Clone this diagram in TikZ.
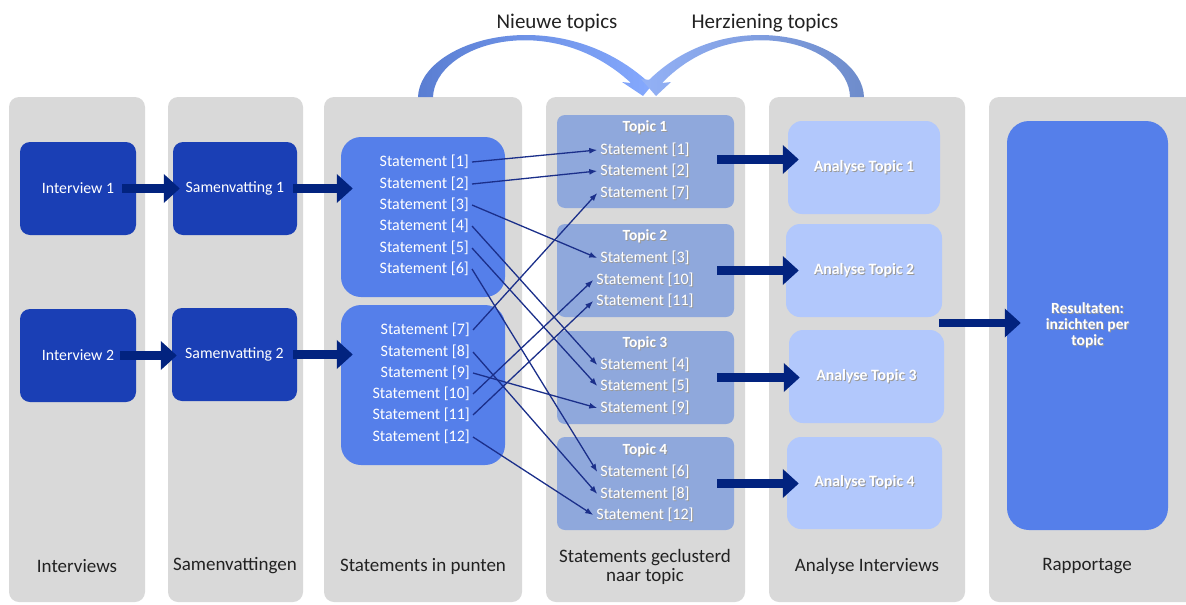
\documentclass[tikz,border=0pt]{standalone}
\usepackage{fontspec}
\setmainfont{Carlito}
\usetikzlibrary{arrows.meta}

\definecolor{colgray}{HTML}{D9D9D9}
\definecolor{deepblue}{HTML}{1A3FB5}
\definecolor{midblue}{HTML}{557FEA}
\definecolor{topicblue}{HTML}{8FA8DC}
\definecolor{paleblue}{HTML}{B2C8FC}
\definecolor{navy}{HTML}{02237F}
\definecolor{linknavy}{HTML}{1B2F8A}
\definecolor{arcdark}{HTML}{5A7ED2}
\definecolor{arclight}{HTML}{86AAFF}
\definecolor{arcdarkb}{HTML}{6E8CCB}
\definecolor{arclightb}{HTML}{93B1F6}
\definecolor{captext}{HTML}{222222}

% white text with a soft drop shadow
\newcommand\shd[1]{\rlap{\hspace{0.9pt}\raisebox{-0.9pt}{\textcolor{black!40}{#1}}}#1}

\begin{document}
\begin{tikzpicture}[x=1pt,y=-1pt,
  column/.style={fill=colgray, rounded corners=10pt},
  boxbase/.style={inner sep=0pt, text=white},
  ibox/.style={boxbase, fill=deepblue, rounded corners=10pt, font=\fontsize{15.8}{18}\selectfont},
  sbox/.style={boxbase, fill=midblue, rounded corners=20pt},
  tbox/.style={boxbase, fill=topicblue, rounded corners=8pt},
  abox/.style={boxbase, fill=paleblue, rounded corners=14pt, font=\bfseries\fontsize{15.8}{18}\selectfont},
  rbox/.style={boxbase, fill=midblue, rounded corners=22pt, align=center, font=\bfseries\fontsize{15.5}{16}\selectfont},
  stm/.style={text=white, inner sep=3pt, anchor=east, font=\fontsize{16}{18}\selectfont},
  tstm/.style={text=white, inner sep=3pt, font=\fontsize{16}{18}\selectfont},
  ttl/.style={text=white, inner sep=1pt, font=\bfseries\fontsize{15.5}{18}\selectfont},
  bigarrow/.style={draw=navy, line width=8.5pt, -{Triangle[length=16pt,width=28pt]}},
  link/.style={draw=linknavy, line width=1.3pt, -{Latex[length=8pt,width=6pt]}},
  caption/.style={text=captext, align=center, font=\fontsize{19}{19}\selectfont},
  toplabel/.style={text=captext, font=\fontsize{21}{21}\selectfont}]

\useasboundingbox (0,0) rectangle (1186,605);

% column backgrounds
\path[column] (9,97) rectangle (145,602);
\path[column] (168,97) rectangle (303,602);
\path[column] (324,97) rectangle (522,602);
\path[column] (546,97) rectangle (745,602);
\path[column] (769,97) rectangle (965,602);
\path[column] (989,97) rectangle (1196,602);

% feedback arcs above the clustering column
\shade[left color=arcdark, right color=arclight]
  (418,97) .. controls (420,40) and (555,0) .. (646,80)
  -- (657,79) -- (643,96) -- (622,82) -- (631,83)
  .. controls (550,8) and (435,44) .. (433,97) -- cycle;
\shade[left color=arclightb, right color=arcdarkb]
  (864,97) .. controls (862,40) and (730,0) .. (649,80)
  -- (641,79) -- (656,96) -- (671,82) -- (662,83)
  .. controls (735,8) and (849,44) .. (850,97) -- cycle;
\node[toplabel] (newtopics) at (557,23) {Nieuwe topics};
\node[toplabel] (revtopics) at (765,23) {Herziening topics};

% interviews and summaries
\node[ibox, minimum width=116pt, minimum height=93pt] (int1) at (78,188.5) {Interview 1};
\node[ibox, minimum width=116pt, minimum height=93pt] (int2) at (78,355.5) {Interview 2};
\node[ibox, minimum width=124pt, minimum height=93pt] (sam1) at (235,188.5) {Samenvatting 1};
\node[ibox, minimum width=125pt, minimum height=93pt] (sam2) at (234.5,354.5) {Samenvatting 2};

% statement boxes
\node[sbox, minimum width=164pt, minimum height=160pt] (sb1) at (423,217) {};
\node[sbox, minimum width=164pt, minimum height=160pt] (sb2) at (423,385) {};
\node[stm] (s1) at (472,162) {Statement [1]};
\node[stm] (s2) at (472,184) {Statement [2]};
\node[stm] (s3) at (472,205) {Statement [3]};
\node[stm] (s4) at (472,226) {Statement [4]};
\node[stm] (s5) at (472,248) {Statement [5]};
\node[stm] (s6) at (472,269) {Statement [6]};
\node[stm] (s7) at (473,330) {Statement [7]};
\node[stm] (s8) at (473,352) {Statement [8]};
\node[stm] (s9) at (473,373) {Statement [9]};
\node[stm] (s10) at (473,394) {Statement [10]};
\node[stm] (s11) at (473,415) {Statement [11]};
\node[stm] (s12) at (473,437) {Statement [12]};

% topic clusters
\node[tbox, minimum width=177pt, minimum height=93pt] (t1) at (645.5,161.5) {};
\node[tbox, minimum width=177pt, minimum height=93pt] (t2) at (645.5,270.5) {};
\node[tbox, minimum width=177pt, minimum height=93pt] (t3) at (645.5,377.5) {};
\node[tbox, minimum width=177pt, minimum height=93pt] (t4) at (645.5,483.5) {};
\node[ttl] (tt1) at (645,128) {\shd{Topic 1}};
\node[ttl] (tt2) at (645,237) {\shd{Topic 2}};
\node[ttl] (tt3) at (645,344) {\shd{Topic 3}};
\node[ttl] (tt4) at (645,451) {\shd{Topic 4}};
\node[tstm] (ts1) at (645,150) {\shd{Statement [1]}};
\node[tstm] (ts2) at (645,171) {\shd{Statement [2]}};
\node[tstm] (ts7) at (645,193) {\shd{Statement [7]}};
\node[tstm] (ts3) at (645,258) {\shd{Statement [3]}};
\node[tstm] (ts10) at (645,280) {\shd{Statement [10]}};
\node[tstm] (ts11) at (645,301) {\shd{Statement [11]}};
\node[tstm] (ts4) at (645,365) {\shd{Statement [4]}};
\node[tstm] (ts5) at (645,386) {\shd{Statement [5]}};
\node[tstm] (ts9) at (645,408) {\shd{Statement [9]}};
\node[tstm] (ts6) at (645,472) {\shd{Statement [6]}};
\node[tstm] (ts8) at (645,494) {\shd{Statement [8]}};
\node[tstm] (ts12) at (645,515) {\shd{Statement [12]}};

% analysis per topic
\node[abox, minimum width=152pt, minimum height=93pt] (a1) at (864,167.5) {\shd{Analyse Topic 1}};
\node[abox, minimum width=156pt, minimum height=93pt] (a2) at (864,270.5) {\shd{Analyse Topic 2}};
\node[abox, minimum width=155pt, minimum height=93pt] (a3) at (866.5,376.5) {\shd{Analyse Topic 3}};
\node[abox, minimum width=155pt, minimum height=92pt] (a4) at (864.5,483) {\shd{Analyse Topic 4}};

% report
\node[rbox, minimum width=161pt, minimum height=409pt] (res) at (1087.5,325.5)
  {\shd{Resultaten:}\\\shd{inzichten per}\\\shd{topic}};

% flow arrows
\draw[bigarrow] ([xshift=-14pt]int1.east) -- ([xshift=7pt]int1.east -| sam1.west);
\draw[bigarrow] ([xshift=-16pt]int2.east) -- ([xshift=5pt]int2.east -| sam2.west);
\draw[bigarrow] ([xshift=-4pt]sam1.east) -- ([xshift=12pt]sam1.east -| sb1.west);
\draw[bigarrow] ([xshift=-4pt]sam2.east) -- ([xshift=12pt]sam2.east -| sb2.west);
\draw[bigarrow] ([xshift=-17pt,yshift=2pt]t1.east) -- ([xshift=11pt,yshift=2pt]t1.east -| a1.west);
\draw[bigarrow] ([xshift=-17pt]t2.east) -- ([xshift=13pt]t2.east -| a2.west);
\draw[bigarrow] ([xshift=-17pt]t3.east) -- ([xshift=11pt]t3.east -| a3.west);
\draw[bigarrow] ([xshift=-17pt]t4.east) -- ([xshift=12pt]t4.east -| a4.west);
\coordinate (ajoin) at (939,323);
\draw[bigarrow] (ajoin) -- ([xshift=14pt]ajoin -| res.west);

% statement assignment links
\draw[link] (s1.east) -- (ts1.west);
\draw[link] (s2.east) -- (ts2.west);
\draw[link] (s3.east) -- (ts3.west);
\draw[link] (s4.east) -- (ts4.west);
\draw[link] (s5.east) -- (ts5.west);
\draw[link] (s6.east) -- (ts6.west);
\draw[link] (s7.east) -- (ts7.west);
\draw[link] (s8.east) -- (ts8.west);
\draw[link] (s9.east) -- (ts9.west);
\draw[link] (s10.east) -- (ts10.west);
\draw[link] (s11.east) -- (ts11.west);
\draw[link] (s12.east) -- (ts12.west);

% column captions
\node[caption] (c1) at (77,566) {Interviews};
\node[caption] (c2) at (235,566) {Samenvattingen};
\node[caption] (c3) at (423,566) {Statements in punten};
\node[caption] (c4) at (645,566.5) {Statements geclusterd\\naar topic};
\node[caption] (c5) at (867,566) {Analyse Interviews};
\node[caption] (c6) at (1087,566) {Rapportage};
\end{tikzpicture}
\end{document}
